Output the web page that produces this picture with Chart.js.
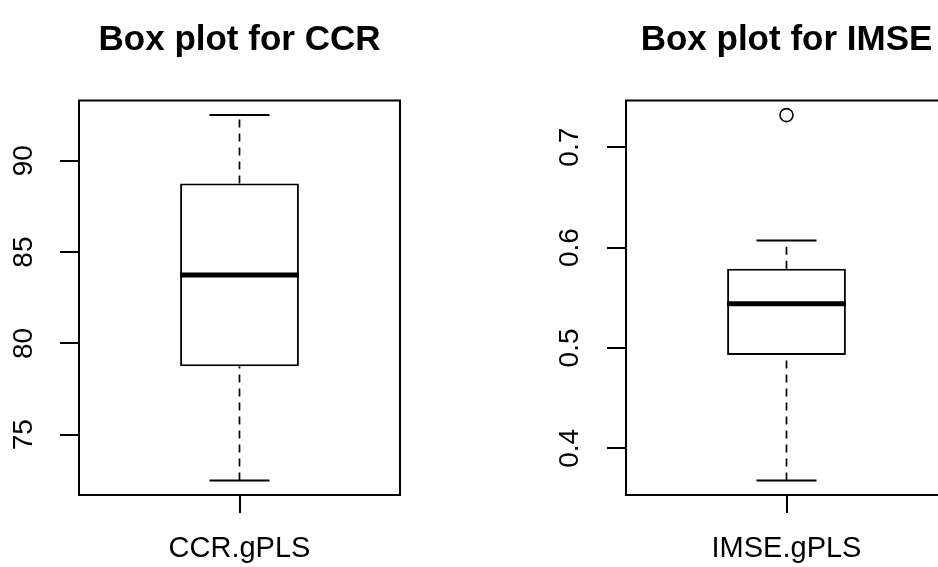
<!DOCTYPE html>
<html>
<head>
<meta charset="utf-8">
<title>Box plots</title>
<script src="https://cdn.jsdelivr.net/npm/chart.js@4.4.1/dist/chart.umd.min.js"></script>
<style>
  html, body { margin: 0; padding: 0; background: #fff; overflow: hidden; }
  body { width: 938px; height: 567px; position: relative; }
  .panel { position: absolute; top: 0; width: 479px; height: 567px; }
  #panel-ccr  { left: 0; }
  #panel-imse { left: 547px; }
</style>
</head>
<body>
<div class="panel" id="panel-ccr"><canvas id="chartCCR"></canvas></div>
<div class="panel" id="panel-imse"><canvas id="chartIMSE"></canvas></div>

<script>
/* ── Data ─────────────────────────────────────────────────────────────────── */
// five-number summaries: lower whisker, Q1, median, Q3, upper whisker
const ccrLabels   = ['CCR.gPLS'];
const ccrStats    = [72.5, 78.75, 83.75, 88.75, 92.5];
const ccrOutliers = [];
const ccrTicks    = [75, 80, 85, 90];

const imseLabels   = ['IMSE.gPLS'];
const imseStats    = [0.368, 0.493, 0.544, 0.579, 0.607];
const imseOutliers = [0.732];
const imseTicks    = [0.4, 0.5, 0.6, 0.7];

const FONT = "'Liberation Sans', Arial, Helvetica, sans-serif";

/* ── Helpers ─────────────────────────────────────────────────────────────── */
// frame round the plot region, like box() in R
const framePlugin = {
  id: 'frame',
  afterDraw(chart) {
    const { ctx, chartArea: a } = chart;
    ctx.save();
    ctx.strokeStyle = '#000';
    ctx.lineWidth = 2;
    ctx.strokeRect(a.left, a.top, a.right - a.left, a.bottom - a.top);
    ctx.restore();
  }
};

function boxDatasets(label, s, outliers) {
  const [lo, q1, med, q3, hi] = s;
  const whisker = { type: 'line', borderColor: '#000', borderWidth: 1.7, borderDash: [8, 6], pointRadius: 0, order: 4 };
  return [
    { type: 'bar', data: [[q1, q3]], backgroundColor: '#fff', borderColor: '#000', borderWidth: 2,
      borderSkipped: false, barPercentage: 0.37, categoryPercentage: 1, order: 5 },
    { ...whisker, data: [{ x: label, y: q3 }, { x: label, y: hi }] },
    { ...whisker, data: [{ x: label, y: lo }, { x: label, y: q1 }] },
    // whisker caps
    { type: 'line', data: [{ x: label, y: lo }, { x: label, y: hi }], showLine: false,
      pointStyle: 'line', pointRadius: 30, pointBorderWidth: 2, pointBorderColor: '#000', order: 3 },
    // median
    { type: 'line', data: [{ x: label, y: med }], showLine: false,
      pointStyle: 'line', pointRadius: 59.5, pointBorderWidth: 5, pointBorderColor: '#000', order: 1 },
    // outliers
    { type: 'line', data: outliers.map(v => ({ x: label, y: v })), showLine: false,
      pointStyle: 'circle', pointRadius: 6.5, pointBorderWidth: 1.6,
      pointBackgroundColor: '#fff', pointBorderColor: '#000', order: 2 }
  ];
}

function dibujarBoxplot(canvasId, titulo, labels, stats, outliers, ticks, yPad) {
  // R pads the data range by 4% on each side
  const all = stats.concat(outliers);
  const lo = Math.min(...all), hi = Math.max(...all);
  const pad = (hi - lo) * 0.04;

  return new Chart(document.getElementById(canvasId), {
    type: 'bar',
    data: { labels, datasets: boxDatasets(labels[0], stats, outliers) },
    plugins: [framePlugin],
    options: {
      responsive: true,
      maintainAspectRatio: false,
      animation: false,
      events: [],
      layout: { padding: 0 },
      plugins: {
        legend: { display: false },
        tooltip: { enabled: false },
        title: {
          display: true,
          text: titulo,
          color: '#000',
          font: { family: FONT, size: 35, weight: 'bold' },
          padding: { top: 19, bottom: 39.5 }
        }
      },
      scales: {
        x: {
          type: 'category',
          position: 'bottom',
          grid: { display: true, drawOnChartArea: false, drawTicks: true, tickLength: 18,
                  offset: false, color: '#000', lineWidth: 2 },
          border: { display: false },
          ticks: { color: '#000', font: { family: FONT, size: 29 }, padding: 19 },
          afterFit: s => { s.height = 72; }
        },
        y: {
          position: 'left',
          min: lo - pad,
          max: hi + pad,
          afterBuildTicks: s => { s.ticks = ticks.map(v => ({ value: v })); },
          grid: { display: true, drawOnChartArea: false, drawTicks: true, tickLength: 19,
                  color: '#000', lineWidth: 2 },
          border: { display: false },
          ticks: { color: '#000', font: { family: FONT, size: 28 }, minRotation: 90, maxRotation: 90,
                   crossAlign: 'center', padding: yPad, callback: v => String(v) },
          afterFit: s => { s.width = 79; }
        },
        // empty margin on the right so the title centres over the plot
        margen: {
          position: 'right',
          display: true,
          grid: { display: false },
          border: { display: false },
          ticks: { display: false },
          afterFit: s => { s.width = 79; }
        }
      }
    }
  });
}

/* ── Init ─────────────────────────────────────────────────────────────────── */
dibujarBoxplot('chartCCR',  'Box plot for CCR',  ccrLabels,  ccrStats,  ccrOutliers,  ccrTicks,  20);
dibujarBoxplot('chartIMSE', 'Box plot for IMSE', imseLabels, imseStats, imseOutliers, imseTicks, 17);
</script>
</body>
</html>
